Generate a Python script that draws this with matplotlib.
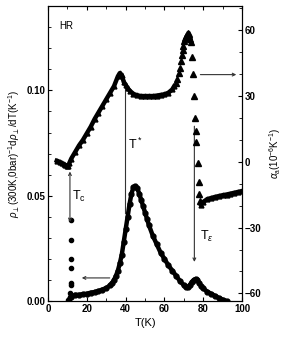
import matplotlib
matplotlib.use('Agg')
import matplotlib.pyplot as plt
from matplotlib.ticker import MultipleLocator

plt.rcParams['font.family'] = ['Liberation Sans', 'DejaVu Sans']
plt.rcParams['font.size'] = 7
plt.rcParams['mathtext.fontset'] = 'custom'
plt.rcParams['mathtext.rm'] = 'Liberation Sans'
plt.rcParams['mathtext.it'] = 'Liberation Sans:italic'

# resistivity derivative, dense part (left axis)
rho_T = [12, 14, 16, 18, 20, 22, 24, 26, 28, 30, 32, 33, 34, 35, 36, 37, 38, 39, 40,
         41, 42, 43, 44, 45, 46, 47, 48, 49, 50, 51, 52, 54, 56, 58, 60, 62, 64, 66,
         68, 70, 71, 72, 73, 74, 75, 76, 77, 78, 79, 80, 82, 84, 86, 88, 90, 92]
rho_v = [0.002, 0.003, 0.003, 0.0033, 0.0035, 0.004, 0.0043, 0.0048, 0.0055, 0.0062,
         0.0075, 0.0085, 0.010, 0.012, 0.0145, 0.018, 0.022, 0.028, 0.034, 0.040, 0.046,
         0.051, 0.054, 0.0545, 0.0535, 0.051, 0.048, 0.045, 0.042, 0.039, 0.036, 0.031,
         0.027, 0.023, 0.020, 0.017, 0.0145, 0.012, 0.0095, 0.0075, 0.0065, 0.0065,
         0.0075, 0.009, 0.010, 0.0105, 0.010, 0.0085, 0.007, 0.006, 0.0045, 0.0035,
         0.0025, 0.0015, 0.0007, 0.0]
# scattered points at the superconducting transition
rho_tc_T = [10.5, 11.0, 11.3, 11.5, 11.6, 11.6, 11.6, 11.6, 11.7, 11.7]
rho_tc_v = [0.0005, 0.001, 0.002, 0.004, 0.0076, 0.0087, 0.0157, 0.020, 0.029, 0.0386]

# thermal expansion (right axis), dense parts
alpha_T = [4.5, 6, 7, 8, 9, 10, 10.5, 11, 12, 14, 16, 18, 20, 22, 24, 26, 28, 30, 32,
           34, 36, 37, 38, 39, 40, 41, 42, 44, 46, 48, 50, 52, 54, 56, 58, 60, 62, 64, 65]
alpha_v = [0.5, 0, -0.5, -1, -1.5, -2, -1.8, -0.5, 1.5, 4.5, 7.5, 10, 13, 16, 19.5,
           22.5, 25.5, 28.5, 31.5, 34.5, 39, 40.5, 39.5, 36.5, 35, 33.5, 32.5, 31, 30.3,
           30, 30, 30, 30, 30.2, 30.5, 30.8, 31.5, 33, 34.5]
alpha_peak_T = [66, 66.7, 67.3, 67.8, 68.3, 68.8, 69.3, 69.8, 70.3, 70.8, 71.3, 71.8,
                72.2, 72.5, 72.8, 73.3, 73.7, 74.2, 74.5, 75.4, 75.9, 76.0, 76.2, 77.1,
                77.6, 77.9, 78.5]
alpha_peak_v = [36, 38, 40.5, 43, 46, 48.5, 51, 53, 55, 56.5, 57.5, 58.2, 58.8, 58.5,
                57.5, 56, 54.7, 47.9, 40, 30.1, 19.9, 14, 9.2, -0.6, -9.2, -14.7, -18]
alpha_tail_T = [78.8, 80, 82, 84, 86, 88, 90, 92, 94, 96, 98, 100]
alpha_tail_v = [-19.5, -18.3, -17, -16.5, -16, -15.6, -15.2, -14.9, -14.5, -14.1,
                -13.7, -13.3]

fig = plt.figure(figsize=(2.91, 3.41), dpi=100)
ax = fig.add_axes([0.165, 0.117, 0.667, 0.865])
ax2 = ax.twinx()

ax.plot(rho_T, rho_v, 'o-', color='black', markersize=3.5, linewidth=3.2)
ax.plot(rho_tc_T, rho_tc_v, 'o', color='black', markersize=3)

ax2.plot(alpha_T, alpha_v, '^-', color='black', markersize=3.5, linewidth=3.2)
ax2.plot(alpha_peak_T, alpha_peak_v, '^', color='black', markersize=3.8)
ax2.plot(alpha_tail_T, alpha_tail_v, '^-', color='black', markersize=3.5, linewidth=3.2)

ax.set_xlim(0, 100)
ax.set_ylim(0, 0.14)
ax2.set_ylim(-63.5, 71)

ax.xaxis.set_major_locator(MultipleLocator(20))
ax.xaxis.set_minor_locator(MultipleLocator(10))
ax.yaxis.set_major_locator(MultipleLocator(0.05))
ax.yaxis.set_minor_locator(MultipleLocator(0.01))
ax.yaxis.set_major_formatter(matplotlib.ticker.FormatStrFormatter('%.2f'))
ax2.yaxis.set_major_locator(MultipleLocator(30))
ax2.yaxis.set_minor_locator(MultipleLocator(10))

ax.tick_params(which='both', direction='in', top=True, labelsize=7, pad=2)
ax.tick_params(which='major', length=3)
ax.tick_params(which='minor', length=2)
ax2.tick_params(which='both', direction='in', labelsize=7, pad=2)
ax2.tick_params(which='major', length=3)
ax2.tick_params(which='minor', length=2)
for lab in ax.get_xticklabels() + ax.get_yticklabels() + ax2.get_yticklabels():
    lab.set_fontweight('bold')

ax.set_xlabel('T(K)', fontsize=8, labelpad=3)
ax.set_ylabel(r'$\rho_{\perp}$(300K,0bar)$^{-1}$d$\rho_{\perp}$/dT(K$^{-1}$)',
              fontsize=7, labelpad=3)
ax2.set_ylabel(r'$\alpha_\mathrm{a}$(10$^{-6}$K$^{-1}$)', fontsize=7, rotation=90,
               labelpad=4)

ax.text(6, 0.129, 'HR', fontsize=7)

# T* line
ax.plot([39.5, 39.5], [0.042, 0.1015], color='#333333', linewidth=0.8)
ax.text(41, 0.072, r'T$^*$', fontsize=9)

# Tc double arrow
ax.annotate('', xy=(11.3, 0.0615), xytext=(11.3, 0.0375),
            arrowprops=dict(arrowstyle='<->', color='#333333', lw=0.8,
                            mutation_scale=5, shrinkA=0, shrinkB=0))
ax.text(12.5, 0.048, r'T$_\mathrm{c}$', fontsize=9)

# arrow pointing to left axis curve
ax.annotate('', xy=(17.4, 0.011), xytext=(31.8, 0.011),
            arrowprops=dict(arrowstyle='->', color='#333333', lw=0.8,
                            mutation_scale=5, shrinkA=0, shrinkB=0))
# arrow pointing to right axis
ax.annotate('', xy=(97, 0.1075), xytext=(78.5, 0.1075),
            arrowprops=dict(arrowstyle='->', color='#333333', lw=0.8,
                            mutation_scale=5, shrinkA=0, shrinkB=0))

# T_epsilon arrow
ax.annotate('', xy=(75.4, 0.0186), xytext=(75.4, 0.0830),
            arrowprops=dict(arrowstyle='->', color='#333333', lw=0.8,
                            mutation_scale=5, shrinkA=0, shrinkB=0))
ax.text(78.5, 0.029, r'T$_\epsilon$', fontsize=9)

plt.savefig('out.png', dpi=100)
